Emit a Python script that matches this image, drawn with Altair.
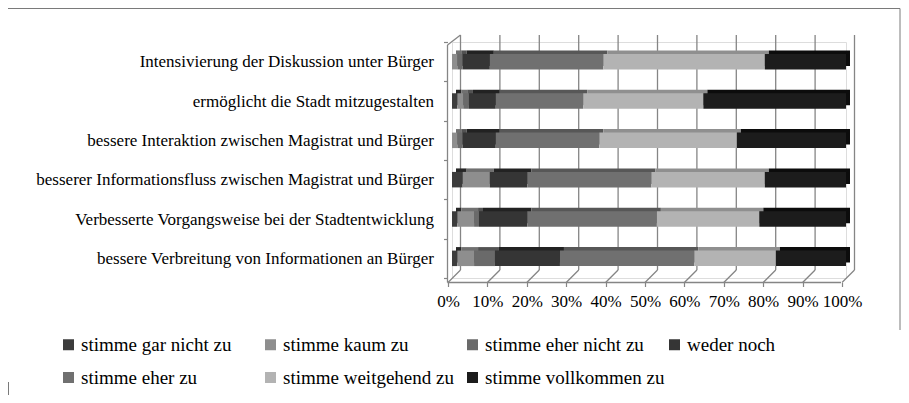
import altair as alt
import pandas as pd

categories = [
    "Intensivierung der Diskussion unter Bürger",
    "ermöglicht die Stadt mitzugestalten",
    "bessere Interaktion zwischen Magistrat und Bürger",
    "besserer Informationsfluss zwischen Magistrat und Bürger",
    "Verbesserte Vorgangsweise bei der Stadtentwicklung",
    "bessere Verbreitung von Informationen an Bürger",
]
responses = [
    "stimme gar nicht zu",
    "stimme kaum zu",
    "stimme eher nicht zu",
    "weder noch",
    "stimme eher zu",
    "stimme weitgehend zu",
    "stimme vollkommen zu",
]
# percent per category (same order as responses)
values = [
    [0.0, 1.35, 1.35, 6.9, 28.8, 41.0, 20.6],
    [1.35, 1.5, 1.45, 6.8, 22.2, 30.5, 36.2],
    [0.0, 1.35, 1.35, 8.4, 26.3, 34.9, 27.7],
    [2.7, 6.9, 0.0, 9.5, 31.5, 28.8, 20.6],
    [1.35, 4.25, 1.25, 12.25, 32.9, 26.0, 22.0],
    [1.35, 4.25, 5.3, 16.5, 34.1, 20.7, 17.8],
]
tick_values = [0.0, 0.1, 0.2, 0.3, 0.4, 0.5, 0.6, 0.7, 0.8, 0.9, 1.0]

face_colors = ["#3c3c3c", "#8e8e8e", "#6a6a6a", "#353535", "#707070", "#b3b3b3", "#1c1c1c"]
side_colors = ["#262626", "#707070", "#525252", "#222222", "#575757", "#8f8f8f", "#0c0c0c"]

rows = []
for ci, c in enumerate(categories):
    for ri, r in enumerate(responses):
        rows.append({"cat": c, "resp": r, "v": values[ci][ri], "idx": ri})
df = pd.DataFrame(rows)
ticks_df = pd.DataFrame({"t": tick_values})

FONT = "Liberation Serif"
GRID = "#858585"

xscale = alt.Scale(domain=[0, 1], nice=False, zero=True)
yscale = alt.Scale(domain=categories, paddingInner=0, paddingOuter=0)

xaxis = alt.Axis(
    values=tick_values, format=".0%", title=None, domain=False, grid=False,
    tickOffset=-4, tickSize=4, tickColor=GRID, tickWidth=1.2, offset=4.5,
    labelFont=FONT, labelFontSize=17, labelColor="black", labelPadding=7,
    labelFlush=False, labelOverlap=False,
)
yaxis = alt.Axis(
    title=None, domain=False, grid=False, tickBand="extent", tickSize=4,
    tickColor=GRID, tickWidth=1.2, offset=4.5, labelFont=FONT, labelFontSize=17,
    labelColor="black", labelPadding=10, labelLimit=600,
)

back = alt.Chart(df).mark_bar(size=15.5, xOffset=4, x2Offset=4, yOffset=-3.5, y2Offset=-3.5).encode(
    x=alt.X("v:Q", stack="normalize", scale=xscale, axis=xaxis),
    y=alt.Y("cat:N", sort=categories, scale=yscale, axis=yaxis),
    color=alt.Color("resp:N", scale=alt.Scale(domain=responses, range=side_colors), legend=None),
    order=alt.Order("idx:Q"),
)

front = alt.Chart(df).mark_bar(size=15.5).encode(
    x=alt.X("v:Q", stack="normalize", scale=xscale, axis=xaxis),
    y=alt.Y("cat:N", sort=categories, scale=yscale, axis=yaxis),
    color=alt.Color(
        "resp:N", scale=alt.Scale(domain=responses, range=face_colors),
        legend=alt.Legend(
            title=None, orient="none", legendX=-393, legendY=293, columns=4,
            direction="horizontal", symbolType="square", symbolSize=121,
            symbolStrokeWidth=0, labelFont=FONT, labelFontSize=19, labelColor="black",
            labelOffset=3, gridAlign="all", columnPadding=-2, rowPadding=13, padding=0,
            labelLimit=400,
        ),
    ),
    order=alt.Order("idx:Q"),
)

# back wall gridlines
grid = alt.Chart(ticks_df).mark_rule(color=GRID, strokeWidth=1.3, xOffset=8.5).encode(
    x=alt.X("t:Q", scale=xscale, axis=xaxis), y=alt.value(-7), y2=alt.value(228)
)
# floor diagonals
diag = alt.Chart(ticks_df).mark_rule(color=GRID, strokeWidth=1.3, xOffset=8.5, x2Offset=-4).encode(
    x=alt.X("t:Q", scale=xscale, axis=xaxis), x2="t:Q", y=alt.value(228), y2=alt.value(240.5)
)
one = pd.DataFrame({"a": [0]})
floor = alt.Chart(one).mark_rule(color=GRID, strokeWidth=1.3).encode(
    x=alt.value(-4.5), x2=alt.value(389), y=alt.value(240.5)
)
leftwall = alt.Chart(one).mark_rule(color=GRID, strokeWidth=1.3).encode(
    x=alt.value(-4.5), y=alt.value(3), y2=alt.value(240.5)
)
topdiag = alt.Chart(one).mark_rule(color=GRID, strokeWidth=1.3).encode(
    x=alt.value(-4.5), x2=alt.value(8.5), y=alt.value(3), y2=alt.value(-7)
)
border_top = alt.Chart(one).mark_rule(color="#7a7a7a", strokeWidth=1).encode(
    x=alt.value(-444), x2=alt.value(448), y=alt.value(-33.5)
)
border_right = alt.Chart(one).mark_rule(color="#7a7a7a", strokeWidth=1).encode(
    x=alt.value(448), y=alt.value(-33.5), y2=alt.value(288)
)
border_left = alt.Chart(one).mark_rule(color="#7a7a7a", strokeWidth=1).encode(
    x=alt.value(-443.5), y=alt.value(340), y2=alt.value(353)
)

chart = alt.layer(
    grid, diag, floor, leftwall, topdiag, border_top, border_right, border_left, back, front
).resolve_scale(color="independent").properties(
    width=394, height=236,
    padding={"left": 444, "top": 34, "right": 55, "bottom": 117},
    autosize=alt.AutoSizeParams(type="none"),
).configure_view(stroke=None).configure(font=FONT)

chart.save("out.html", embed_options={"renderer": "svg", "actions": False})
